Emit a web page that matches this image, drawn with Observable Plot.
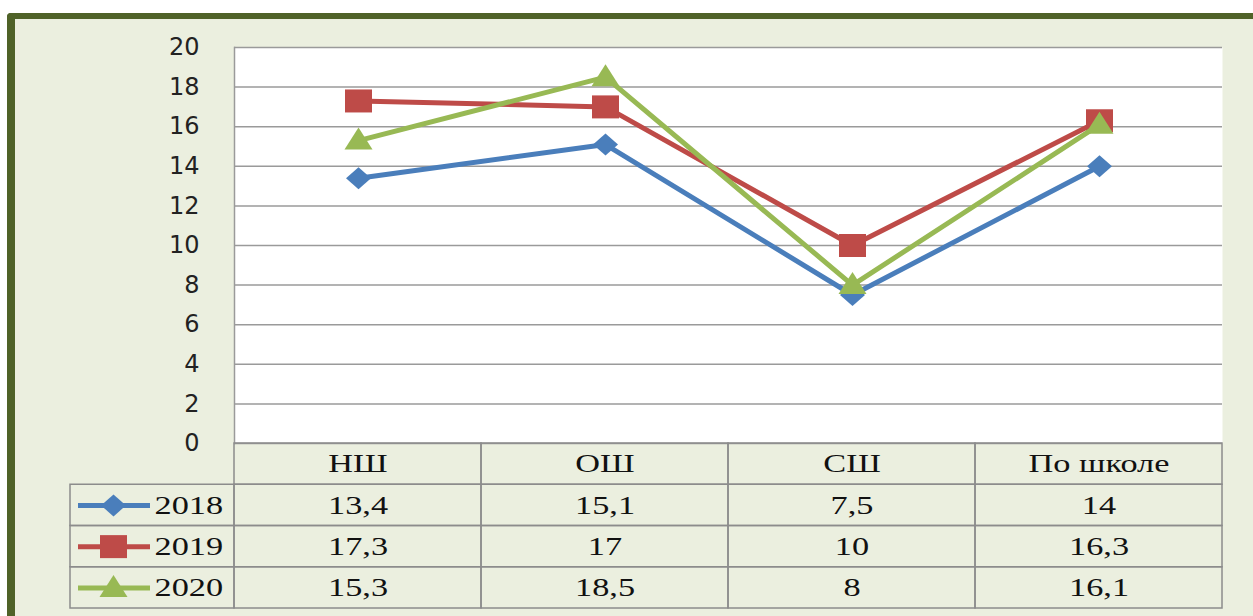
<!DOCTYPE html>
<html><head><meta charset="utf-8">
<script src="https://cdn.jsdelivr.net/npm/d3@7"></script>
<script src="https://cdn.jsdelivr.net/npm/@observablehq/plot@0.6"></script>
<style>
html,body{margin:0;padding:0;background:#fff;width:1253px;height:616px;overflow:hidden;}
#frame{position:absolute;left:7px;top:13px;width:1238px;height:597px;background:#ebefdf;border-left:8px solid #4f6228;border-top:6px solid #4f6228;border-top-left-radius:4px;}
#chart,#table{position:absolute;left:0;}
#chart{top:0}
#table{top:443px}
svg{overflow:visible}
#table text{font-family:"Liberation Serif","Times New Roman",serif;}
</style></head><body>
<div id="frame"></div>
<div id="chart"></div>
<div id="table"></div>
<script>
const categories = ["НШ", "ОШ", "СШ", "По школе"];
const years = ["2018", "2019", "2020"];
const values2018 = [13.4, 15.1, 7.5, 14];
const values2019 = [17.3, 17, 10, 16.3];
const values2020 = [15.3, 18.5, 8, 16.1];
const yTicks = [0, 2, 4, 6, 8, 10, 12, 14, 16, 18, 20];

const diamond = {draw(ctx){ const w=12.5,h=11; ctx.moveTo(0,-h); ctx.lineTo(w,0); ctx.lineTo(0,h); ctx.lineTo(-w,0); ctx.closePath(); }};
const square = {draw(ctx){ const w=13.5,h=11.5; ctx.moveTo(-w,-h); ctx.lineTo(w,-h); ctx.lineTo(w,h); ctx.lineTo(-w,h); ctx.closePath(); }};
const triangle = {draw(ctx){ const w=14; ctx.moveTo(0,-13); ctx.lineTo(w,9); ctx.lineTo(-w,9); ctx.closePath(); }};

const series = [
  {year: years[0], values: values2018, color: "#4a7ebb", symbol: diamond},
  {year: years[1], values: values2019, color: "#be4b48", symbol: square},
  {year: years[2], values: values2020, color: "#98b954", symbol: triangle}
];
const fmt = v => String(v).replace(".", ",");

// Chart
const chartMarks = [
  Plot.frame({fill: "white", stroke: null}),
  Plot.gridY(yTicks, {stroke: "#9a9a9a", strokeOpacity: 1, strokeWidth: 1.5}),
  Plot.axisY(yTicks, {tickSize: 0, tickPadding: 35, fill: "#222", fontSize: 24, fontFamily: "DejaVu Sans", label: null}),
  Plot.frame({anchor: "left", stroke: "#9a9a9a", strokeWidth: 1.5})
];
for (const s of series) {
  const rows = categories.map((c, i) => ({category: c, value: s.values[i]}));
  chartMarks.push(Plot.line(rows, {x: "category", y: "value", stroke: s.color, strokeWidth: 5}));
  chartMarks.push(Plot.dot(rows, {x: "category", y: "value", symbol: s.symbol, fill: s.color, stroke: "none", r: 8}));
}
const chart = Plot.plot({
  width: 1253, height: 460,
  marginLeft: 234, marginRight: 31, marginTop: 47, marginBottom: 17,
  x: {type: "point", domain: categories, padding: 0.5, axis: null},
  y: {domain: [0, 20], axis: null, label: null},
  style: {background: "transparent", overflow: "visible"},
  marks: chartMarks
});
document.getElementById("chart").appendChild(chart);

// Data table
const L = 164 / 247;
const cells = [];
categories.forEach((c, i) => cells.push({col: i, row: 0, text: c}));
series.forEach((s, r) => s.values.forEach((v, i) => cells.push({col: i, row: r + 1, text: fmt(v)})));
const tableMarks = [
  Plot.rect(cells, {x1: "col", x2: d => d.col + 1, y1: "row", y2: d => d.row + 1, fill: "none", stroke: "#8c8c8c", strokeWidth: 1.5}),
  Plot.rect(series, {x1: () => -L, x2: () => 0, y1: (d, i) => i + 1, y2: (d, i) => i + 2, fill: "none", stroke: "#8c8c8c", strokeWidth: 1.5}),
  Plot.text(cells, {x: d => d.col + 0.5, y: d => d.row + 0.5, text: "text", fontFamily: "Liberation Serif", fontSize: 26, fill: "#111"})
];
series.forEach((s, r) => {
  const d = [s];
  tableMarks.push(Plot.ruleY(d, {y: () => r + 1.5, x1: () => -L, x2: () => 0, insetLeft: 8, insetRight: 84, stroke: s.color, strokeWidth: 5}));
  tableMarks.push(Plot.dot(d, {x: () => -L, y: () => r + 1.5, dx: 43, symbol: s.symbol, fill: s.color, stroke: "none", r: 8}));
  tableMarks.push(Plot.text(d, {x: () => -L, y: () => r + 1.5, dx: 84, text: "year", textAnchor: "start", fontFamily: "Liberation Serif", fontSize: 26, fill: "#111"}));
});
const table = Plot.plot({
  width: 1253, height: 173,
  marginLeft: 70, marginRight: 31, marginTop: 0, marginBottom: 8,
  x: {domain: [-L, 4], axis: null},
  y: {domain: [0, 4], reverse: true, axis: null},
  style: {background: "transparent", overflow: "visible", fontFamily: "'Liberation Serif', serif"},
  marks: tableMarks
});
// stretch table text horizontally like the reference's widened Times face
table.querySelectorAll("text").forEach(t => {
  const tr = t.getAttribute("transform") || "";
  const x = t.getAttribute("x");
  let pre = "";
  if (x !== null && !isNaN(+x)) { pre = ` translate(${+x},0)`; t.removeAttribute("x"); }
  t.setAttribute("transform", `${tr}${pre} scale(1.32,1)`);
});
document.getElementById("table").appendChild(table);
</script>
</body></html>
